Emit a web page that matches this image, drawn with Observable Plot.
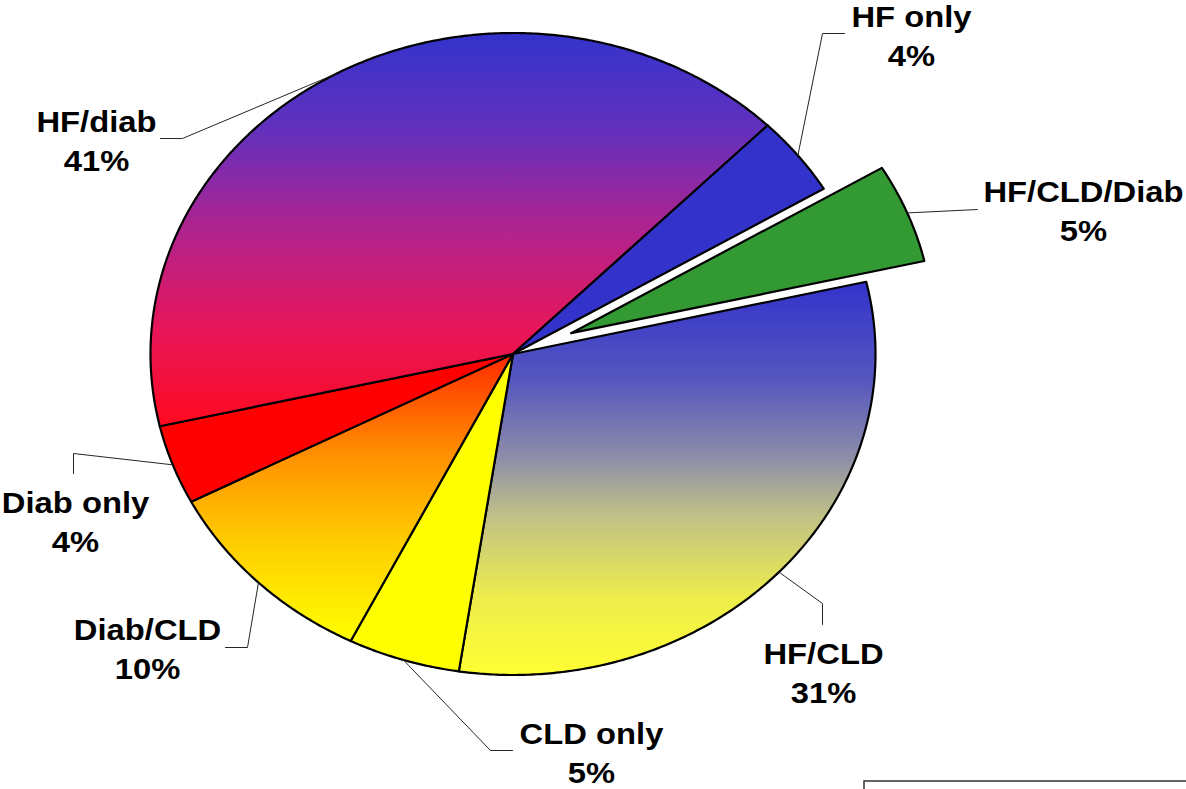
<!DOCTYPE html>
<html>
<head>
<meta charset="utf-8">
<script src="https://cdn.jsdelivr.net/npm/d3@7"></script>
<script src="https://cdn.jsdelivr.net/npm/@observablehq/plot@0.6"></script>
<style>
  html, body { margin: 0; padding: 0; background: #ffffff; }
  #chart svg { display: block; }
</style>
</head>
<body>
<div id="chart"></div>
<script>
// ---------------- data ----------------
const categories = ["HF/CLD", "CLD only", "Diab/CLD", "Diab only", "HF/diab", "HF only", "HF/CLD/Diab"];
const values = [31, 5, 10, 4, 41, 4, 5];
const pctLabels = ["31%", "5%", "10%", "4%", "41%", "4%", "5%"];
const explodedCategories = ["HF/CLD/Diab"];

// ---------------- layout / style ----------------
const W = 1186, H = 789;
const CX = 512.5, CY = 353.5, RX = 362.5, RY = 321;
const START_DEG = 77;
const EXPLODE = 0.173;
const TEXT_STRETCH = 1.13;

const fillFor = {
  "HF/CLD": "url(#gHFCLD)",
  "CLD only": "#ffff00",
  "Diab/CLD": "url(#gDiabCLD)",
  "Diab only": "#ff0000",
  "HF/diab": "url(#gHFdiab)",
  "HF only": "#3333cc",
  "HF/CLD/Diab": "#339933"
};

// label layout in pixels: elbow + end of leader, text anchor (center, baseline of last line)
const labelLayout = {
  "HF/CLD":      {elbow: [822, 603], end: [822, 624], text: [823, 702]},
  "CLD only":    {elbow: [490, 750], end: [512, 750], text: [591, 782]},
  "Diab/CLD":    {elbow: [247, 647], end: [225, 647], text: [147, 678]},
  "Diab only":   {elbow: [73, 453],  end: [73, 473],  text: [75, 551]},
  "HF/diab":     {elbow: [182, 138], end: [160, 138], text: [96, 170]},
  "HF only":     {elbow: [822, 33],  end: [844, 33],  text: [911, 65]},
  "HF/CLD/Diab": {elbow: [977, 209], end: [977, 209], text: [1083, 240]}
};
const ux = (px) => (px - CX) / RX;
const uy = (py) => (CY - py) / RY;

// ---------------- geometry via d3.pie ----------------
const a0 = START_DEG * Math.PI / 180;
const arcs = d3.pie().sort(null).value(d => d).startAngle(a0).endAngle(a0 + 2 * Math.PI)(values);

const slicePts = [];
const leaderPts = [];
const labels = [];
arcs.forEach((a, i) => {
  const name = categories[i];
  const mid = (a.startAngle + a.endAngle) / 2;
  const off = explodedCategories.includes(name) ? EXPLODE : 0;
  const ox = off * Math.sin(mid), oy = off * Math.cos(mid);
  const n = Math.max(2, Math.ceil((a.endAngle - a.startAngle) / (Math.PI / 360)));
  slicePts.push({name, x: ox, y: oy});
  for (let k = 0; k <= n; k++) {
    const t = a.startAngle + (a.endAngle - a.startAngle) * k / n;
    slicePts.push({name, x: ox + Math.sin(t), y: oy + Math.cos(t)});
  }
  slicePts.push({name, x: ox, y: oy});

  const L = labelLayout[name];
  leaderPts.push({name, x: ox + Math.sin(mid), y: oy + Math.cos(mid)});
  leaderPts.push({name, x: ux(L.elbow[0]), y: uy(L.elbow[1])});
  leaderPts.push({name, x: ux(L.end[0]), y: uy(L.end[1])});
  labels.push({name, text: name + "\n" + pctLabels[i], x: ux(L.text[0]), y: uy(L.text[1])});
});

const sliceMarks = categories.map(name =>
  Plot.line(slicePts.filter(d => d.name === name), {
    x: "x", y: "y",
    fill: fillFor[name],
    stroke: "#000000",
    strokeWidth: 2.2,
    strokeLinejoin: "round",
    curve: "linear"
  })
);

const chart = Plot.plot({
  width: W,
  height: H,
  margin: 0,
  style: {background: "#ffffff", overflow: "visible"},
  x: {domain: [-1, 1], range: [CX - RX, CX + RX], axis: null},
  y: {domain: [-1, 1], range: [CY + RY, CY - RY], axis: null},
  marks: [
    ...sliceMarks,
    Plot.line(leaderPts, {x: "x", y: "y", z: "name", stroke: "#262626", strokeWidth: 1, curve: "linear"}),
    Plot.text(labels, {
      x: "x", y: "y", text: "text",
      fontSize: 29, fontWeight: "bold",
      fontFamily: "Liberation Sans, Arial, sans-serif",
      fill: "#000000",
      textAnchor: "middle",
      lineAnchor: "bottom",
      lineHeight: 1.345
    }),
    Plot.rect([{x1: ux(864), x2: ux(1200), y1: uy(781), y2: uy(820)}], {
      x1: "x1", x2: "x2", y1: "y1", y2: "y2",
      fill: "none", stroke: "#333333", strokeWidth: 1.5
    })
  ]
});

// gradients
const svg = d3.select(chart);
const defs = svg.insert("defs", ":first-child");
function grad(id, stops) {
  const g = defs.append("linearGradient").attr("id", id)
    .attr("x1", 0).attr("y1", 0).attr("x2", 0).attr("y2", 1);
  stops.forEach(([o, c]) => g.append("stop").attr("offset", o).attr("stop-color", c));
}
grad("gHFdiab", [[0, "#3333cc"], [0.25, "#6430bd"], [0.5, "#b0238e"], [0.75, "#e6165a"], [1, "#ff0a20"]]);
grad("gHFCLD", [[0, "#3333cc"], [0.25, "#5656c0"], [0.45, "#8e8ea8"], [0.6, "#c2c286"], [0.8, "#ecec4c"], [1, "#ffff33"]]);
grad("gDiabCLD", [[0, "#ff2a00"], [0.35, "#ff9000"], [0.65, "#ffcc00"], [1, "#ffff00"]]);

// the original artwork is horizontally stretched; stretch the label text to match
svg.selectAll("g[aria-label='text'] text").each(function () {
  const tr = this.getAttribute("transform");
  if (tr) this.setAttribute("transform", tr + ` scale(${TEXT_STRETCH},1)`);
});

document.getElementById("chart").appendChild(chart);
</script>
</body>
</html>
